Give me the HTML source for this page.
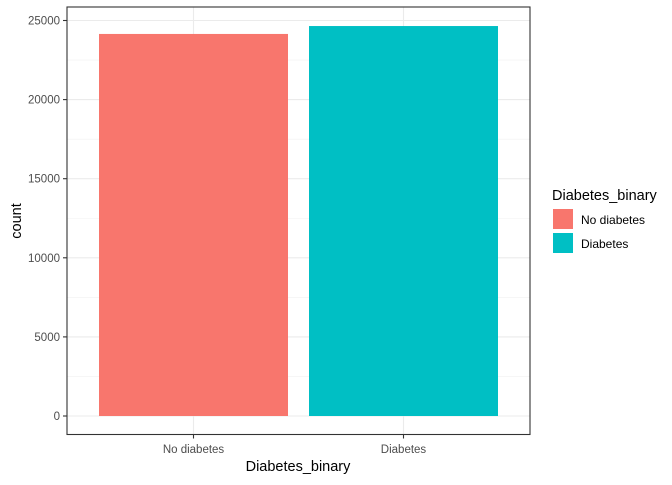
<!DOCTYPE html>
<html><head><meta charset="utf-8"><style>
body{margin:0;background:#fff;}
svg text{font-family:"Liberation Sans",Arial,sans-serif;}
</style></head><body>
<svg id="chart" width="672" height="480" xmlns="http://www.w3.org/2000/svg">
<rect width="672" height="480" fill="#fff"/>
<g id="grid"></g><g id="bars"></g><g id="axes"></g>
<rect x="67" y="7" width="463" height="427.5" fill="none" stroke="#333" stroke-width="1.1"/>
<text x="298" y="471" font-size="14.5" text-anchor="middle" fill="#000">Diabetes_binary</text>
<text transform="translate(21,221) rotate(-90)" font-size="14.5" text-anchor="middle" fill="#000">count</text>
<g>
<text x="552" y="200" font-size="14.5" fill="#000">Diabetes_binary</text>
<rect x="553" y="209" width="20" height="20" fill="#F8766D"/>
<text x="581" y="224" font-size="12" fill="#000">No diabetes</text>
<rect x="553" y="233" width="20" height="20" fill="#00BFC4"/>
<text x="581" y="248" font-size="12" fill="#000">Diabetes</text>
</g>
</svg>
<script>
const categories=["No diabetes","Diabetes"];
const counts=[24150,24650];
const colors=["#F8766D","#00BFC4"];
const yTicks=[0,5000,10000,15000,20000,25000];
const NS="http://www.w3.org/2000/svg";
function y(v){return 416 - v*395.5/25000;}
function xc(i){return 193.5 + i*210;}
function mk(tag,attrs,parent){const e=document.createElementNS(NS,tag);for(const k in attrs)e.setAttribute(k,attrs[k]);document.getElementById(parent).appendChild(e);return e;}
// minor grid
for(let i=0;i<yTicks.length-1;i++){
 const l=mk('line',{x1:67,x2:530,y1:y((yTicks[i]+yTicks[i+1])/2),y2:y((yTicks[i]+yTicks[i+1])/2),stroke:'#f0f0f0','stroke-width':0.6},'grid');
 
 
}
yTicks.forEach(t=>{
 const l=mk('line',{x1:67,x2:530,y1:y(t),y2:y(t),stroke:'#ebebeb','stroke-width':1.1},'grid');
 
 
 const tk=mk('line',{x1:63,x2:67,y1:y(t),y2:y(t),stroke:'#333','stroke-width':1.1},'axes');
 
 
 const tx=mk('text',{x:60,y:y(t)+4,'font-size':11.5,'text-anchor':'end',fill:'#4d4d4d'},'axes');
 tx.textContent=t;
 
 
});
categories.forEach((c,i)=>{
 const l=mk('line',{x1:xc(i),x2:xc(i),y1:7,y2:434.5,stroke:'#ebebeb','stroke-width':1.1},'grid');
 
 
 const b=mk('rect',{x:xc(i)-94.5,width:189,y:y(counts[i]),height:y(0)-y(counts[i]),fill:colors[i]},'bars');
 
 
 const tk=mk('line',{x1:xc(i),x2:xc(i),y1:434.5,y2:438.5,stroke:'#333','stroke-width':1.1},'axes');
 
 
 const tx=mk('text',{x:xc(i),y:453,'font-size':11.5,'text-anchor':'middle',fill:'#4d4d4d'},'axes');
 tx.textContent=c;
 
 
});
</script>
</body></html>
